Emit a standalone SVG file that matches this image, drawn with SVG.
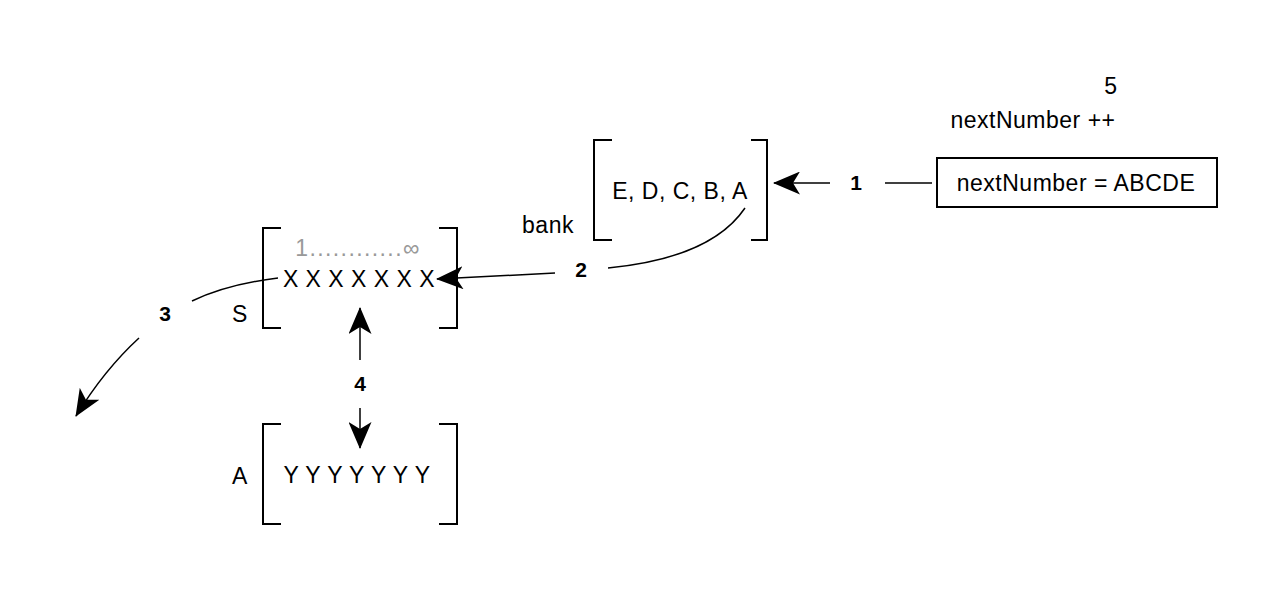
<svg xmlns="http://www.w3.org/2000/svg" width="1280" height="598" viewBox="0 0 1280 598">
<defs>
<style>
text{font-family:"Liberation Sans",Arial,sans-serif;font-size:23px;letter-spacing:0.5px;fill:#000}
.b{font-weight:bold;font-size:21px;letter-spacing:0}
.g{fill:#999;letter-spacing:1.4px}
.br{fill:none;stroke:#000;stroke-width:2}
.c{fill:none;stroke:#000;stroke-width:1.5}
</style>
<marker id="ah" viewBox="0 0 27 23" refX="26" refY="11.5" markerWidth="27" markerHeight="23" markerUnits="userSpaceOnUse" orient="auto">
<path d="M0,0 L27,11.5 L0,23 L7,11.5 Z" fill="#000"/>
</marker>
</defs>
<rect width="1280" height="598" fill="#fff"/>
<g id="bank">
<path class="br" d="M612,140 H594 V240 H612 M751,140 H767 V240 H751"/>
<text x="680" y="199" text-anchor="middle">E, D, C, B, A</text>
<text x="548" y="233" text-anchor="middle">bank</text>
</g>
<g id="nextNumber">
<rect x="937" y="158" width="280" height="49" fill="#fff" stroke="#000" stroke-width="2"/>
<text x="1076" y="191" text-anchor="middle">nextNumber = ABCDE</text>
<text x="1033" y="128" text-anchor="middle">nextNumber ++</text>
<text x="1111" y="94" text-anchor="middle">5</text>
</g>
<g id="S">
<path class="br" d="M281,228 H263 V328 H281 M439,228 H457 V328 H439"/>
<text x="358" y="256" text-anchor="middle" class="g">1............∞</text>
<text x="359" y="287" text-anchor="middle">X X X X X X X</text>
<text x="240" y="322" text-anchor="middle">S</text>
</g>
<g id="A">
<path class="br" d="M281,424 H263 V524 H281 M439,424 H457 V524 H439"/>
<text x="357" y="483" text-anchor="middle">Y Y Y Y Y Y Y</text>
<text x="240" y="484" text-anchor="middle">A</text>
</g>
<g id="connectors">
<path class="c" d="M932,183 H885"/>
<path class="c" d="M830,183 H774" marker-end="url(#ah)"/>
<text class="b" x="856" y="190" text-anchor="middle">1</text>
<path class="c" d="M745,208 C720,245 670,262 608,268"/>
<path class="c" d="M555,273 L437,279" marker-end="url(#ah)"/>
<text class="b" x="581" y="277" text-anchor="middle">2</text>
<path class="c" d="M278,278 C245,282 215,290 192,301"/>
<path class="c" d="M139,338 C115,360 95,385 76,416" marker-end="url(#ah)"/>
<text class="b" x="165" y="321" text-anchor="middle">3</text>
<path class="c" d="M360,360 V308" marker-end="url(#ah)"/>
<path class="c" d="M360,408 V448" marker-end="url(#ah)"/>
<text class="b" x="360" y="391" text-anchor="middle">4</text>
</g>
</svg>
